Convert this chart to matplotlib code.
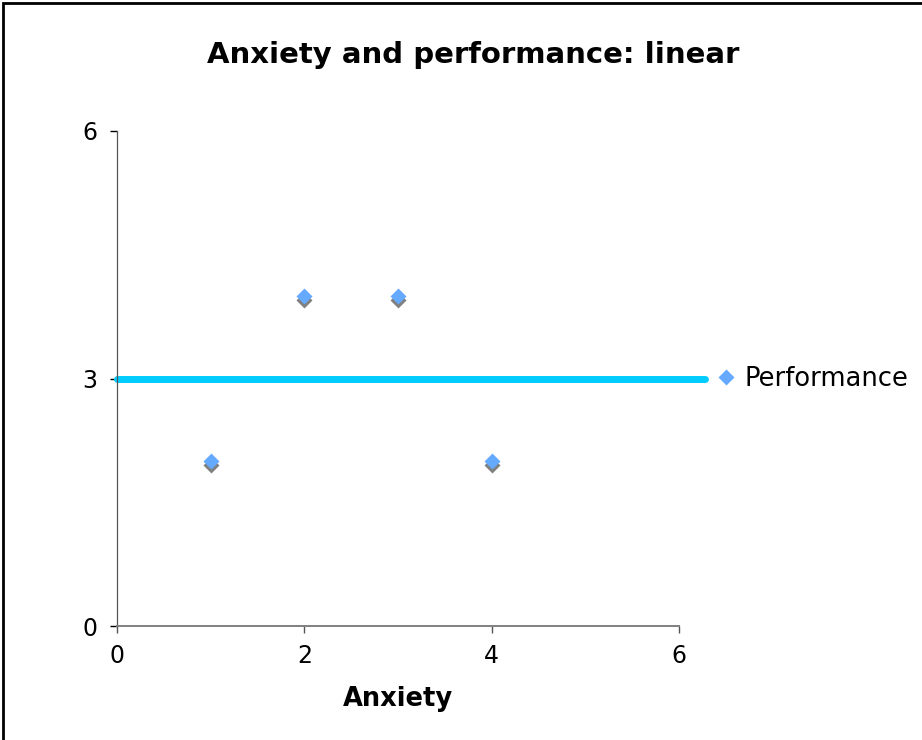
import matplotlib
matplotlib.use("Agg")
import matplotlib.pyplot as plt
from matplotlib.patches import Rectangle
from matplotlib.transforms import offset_copy

# data
anxiety = [1, 2, 3, 4]
performance = [2, 4, 4, 2]
trend_x = [0, 6.28]
trend_y = [3, 3]
x_ticks = [0, 2, 4, 6]
y_ticks = [0, 3, 6]

plt.rcParams['font.family'] = ['DejaVu Sans']

fig = plt.figure(figsize=(9.22, 7.4), dpi=100)
ax = fig.add_axes([117 / 922, 1 - 626 / 740, (679 - 117) / 922, (626 - 131) / 740])

# trend line (runs a bit past the axis end)
ax.plot(trend_x, trend_y, color='#00CCFF', lw=5, solid_capstyle='round', clip_on=False, zorder=2)

# shadow under the diamonds
shadow = offset_copy(ax.transData, fig=fig, x=0, y=-3, units='points')
ax.plot(anxiety, performance, ls='none', marker='D', ms=8.3, color='#808080',
        mec='none', transform=shadow, zorder=3)
pts, = ax.plot(anxiety, performance, ls='none', marker='D', ms=8.3, color='#66AAFF',
               mec='none', zorder=4, label='Performance')

ax.set_xlim(0, 6)
ax.set_ylim(0, 6)
ax.set_xticks(x_ticks)
ax.set_yticks(y_ticks)
ax.tick_params(axis='both', labelsize=17, direction='out', length=5, width=1, colors='#000000')
ax.tick_params(axis='y', pad=9)
ax.tick_params(axis='x', pad=8, colors='#555555', labelcolor='black')

for s in ['top', 'right']:
    ax.spines[s].set_visible(False)
ax.spines['left'].set_color('#555555')
ax.spines['left'].set_linewidth(0.9)
ax.spines['bottom'].set_color('#808080')
ax.spines['bottom'].set_linewidth(1.4)

ax.set_xlabel('Anxiety', fontsize=18.5, fontweight='bold', labelpad=13)
fig.text(473 / 922, 1 - 55 / 740, 'Anxiety and performance: linear', ha='center', va='center',
         fontsize=21, fontweight='bold')

ax.legend(handles=[pts], loc='center left', bbox_to_anchor=(1.05, 0.5), frameon=False,
          fontsize=18.5, handlelength=0.5, handletextpad=0.45, borderpad=0)

# outer chart border (only top and left inside the picture)
fig.patches.append(Rectangle((3 / 922, -0.1), 1.2, 1 - 3 / 740 + 0.1, transform=fig.transFigure,
                             fill=False, ec='black', lw=2, zorder=10))

fig.savefig('out.png', dpi=100)
